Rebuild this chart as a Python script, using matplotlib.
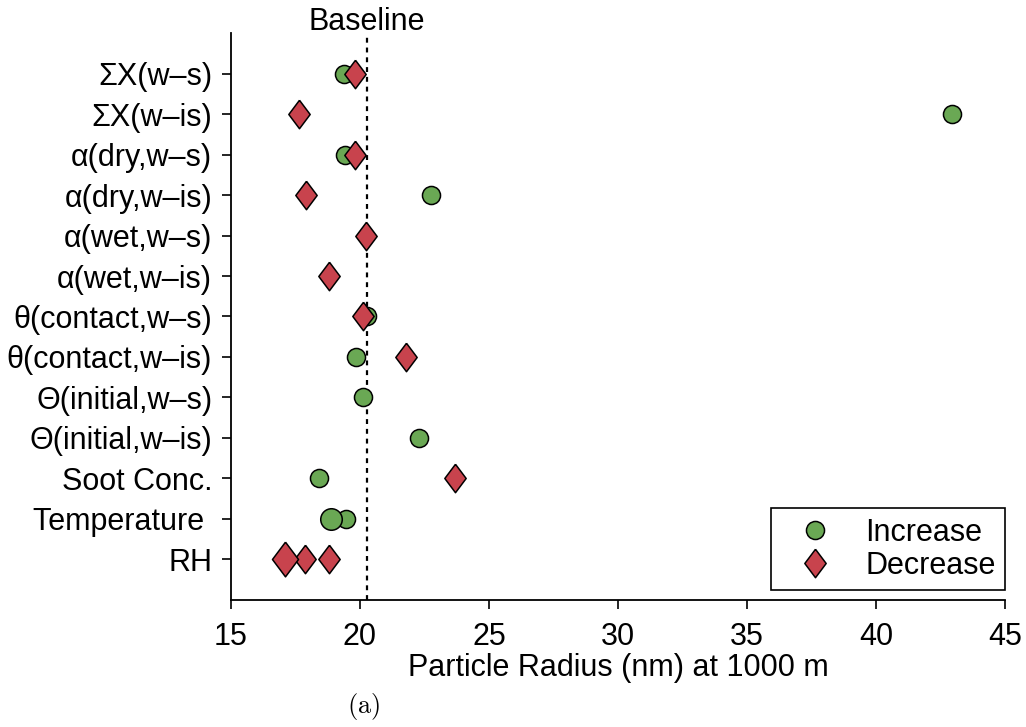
import numpy as np
import matplotlib
matplotlib.use("Agg")
import matplotlib.pyplot as plt
from matplotlib.lines import Line2D

plt.rcParams['font.family'] = ['Liberation Sans', 'DejaVu Sans']
plt.rcParams['mathtext.fontset'] = 'cm'

# parameter rows, top to bottom
PARAMS = [
    "ΣX(w–s)", "ΣX(w–is)", "α(dry,w–s)", "α(dry,w–is)",
    "α(wet,w–s)", "α(wet,w–is)", "θ(contact,w–s)", "θ(contact,w–is)",
    "Θ(initial,w–s)", "Θ(initial,w–is)", "Soot Conc.", "Temperature ", "RH",
]
BASELINE = 20.27

# (row, radius) for increase (circles) and decrease (diamonds)
inc_row = ["ΣX(w–s)", "ΣX(w–is)", "α(dry,w–s)", "α(dry,w–is)",
           "θ(contact,w–s)", "θ(contact,w–is)", "Θ(initial,w–s)",
           "Θ(initial,w–is)", "Soot Conc.", "Temperature ", "Temperature "]
inc_val = [19.38, 42.95, 19.42, 22.75, 20.27, 19.85, 20.12, 22.3, 18.41, 19.46, 18.88]
inc_big = [0, 0, 0, 0, 0, 0, 0, 0, 0, 0, 1]

dec_row = ["ΣX(w–s)", "ΣX(w–is)", "α(dry,w–s)", "α(dry,w–is)",
           "α(wet,w–s)", "α(wet,w–is)", "θ(contact,w–s)", "θ(contact,w–is)",
           "Soot Conc.", "RH", "RH", "RH"]
dec_val = [19.8, 17.64, 19.8, 17.9, 20.23, 18.8, 20.12, 21.78, 23.68, 18.8, 17.87, 17.1]
dec_big = [0, 0, 0, 0, 0, 0, 0, 0, 0, 0, 0, 1]

GREEN = "#6aa854"
RED = "#c8434d"
DIAMOND = [(0, 1), (0.75, 0), (0, -1), (-0.75, 0), (0, 1)]  # taller than wide

ypos = {p: len(PARAMS) - i for i, p in enumerate(PARAMS)}

fig = plt.figure(figsize=(10.26, 7.27), dpi=100)
ax = fig.add_axes([0.2251, 0.1747, 0.7544, 0.7799])

ax.axvline(BASELINE, color="black", ls=(0, (2.2, 2.2)), lw=1.6, zorder=1)

for r, v, b in zip(inc_row, inc_val, inc_big):
    ax.plot(v, ypos[r], "o", ms=15.5 if b else 13, mfc=GREEN, mec="black", mew=1.1, zorder=3)
for r, v, b in zip(dec_row, dec_val, dec_big):
    ax.plot(v, ypos[r], marker=DIAMOND, ms=25 if b else 20.5, mfc=RED, mec="black", mew=1.1, zorder=4)

ax.set_xlim(15, 45)
ax.set_ylim(0, 14)
ax.set_yticks([ypos[p] for p in PARAMS])
ax.set_yticklabels(PARAMS)
ax.set_xticks(np.arange(15, 46, 5))
ax.tick_params(labelsize=22, direction="out", length=6.5, width=1.2)
ax.tick_params(axis="y", pad=7)
ax.tick_params(axis="x", pad=9)
ax.spines["top"].set_visible(False)
ax.spines["right"].set_visible(False)
for s in ("left", "bottom"):
    ax.spines[s].set_linewidth(1.3)

ax.set_xlabel("Particle Radius (nm) at 1000 m", fontsize=22, labelpad=1)
ax.text(BASELINE, 14.07, "Baseline", ha="center", va="baseline", fontsize=22, clip_on=False)

handles = [
    Line2D([], [], ls="", marker="o", ms=13, mfc=GREEN, mec="black", mew=1.1),
    Line2D([], [], ls="", marker=DIAMOND, ms=20.5, mfc=RED, mec="black", mew=1.1),
]
leg = ax.legend(handles, ["Increase", "Decrease"], loc="lower right",
                bbox_to_anchor=(1.0, 0.018), borderaxespad=0, fontsize=22,
                fancybox=False, edgecolor="black", framealpha=1,
                handletextpad=0.5, borderpad=0.3, labelspacing=0.1,
                handlelength=2.3)
leg.get_frame().set_linewidth(1.2)

fig.text(0.354, 0.007, r"$\mathrm{(a)}$", ha="center", va="bottom", fontsize=19)

fig.savefig("out.png", dpi=100)
